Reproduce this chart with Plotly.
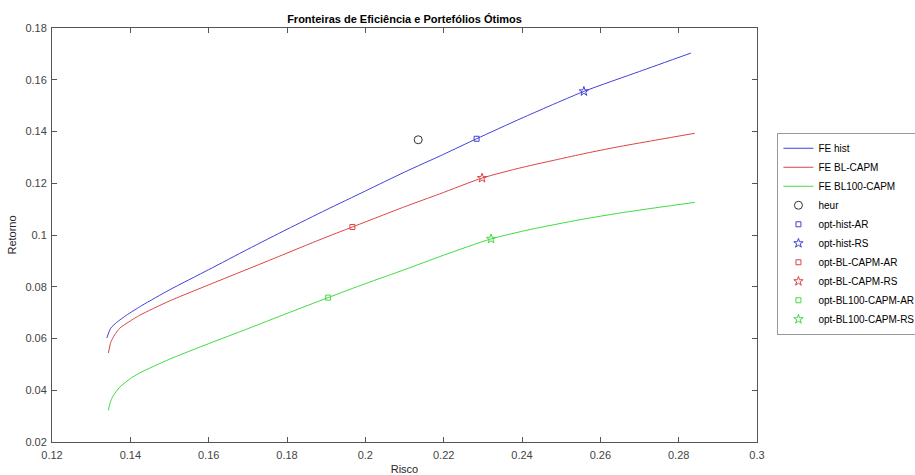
import plotly.graph_objects as go

# Efficient frontiers (risk, return)
fe_hist_risk = [0.1340, 0.1350, 0.1365, 0.1390, 0.1430, 0.1500, 0.1600, 0.1700, 0.1800,
                0.1900, 0.2000, 0.2100, 0.2200, 0.2284, 0.2400, 0.2558, 0.2700, 0.2831]
fe_hist_ret = [0.0602, 0.0640, 0.0662, 0.0690, 0.0728, 0.0788, 0.0866, 0.0945, 0.1022,
               0.1097, 0.1170, 0.1243, 0.1312, 0.1372, 0.1452, 0.1555, 0.1632, 0.1703]

fe_bl_risk = [0.1344, 0.1350, 0.1360, 0.1373, 0.1400, 0.1424, 0.1500, 0.1629, 0.1750,
              0.1884, 0.1967, 0.2100, 0.2190, 0.2298, 0.2400, 0.2500, 0.2573, 0.2650,
              0.2750, 0.2841]
fe_bl_ret = [0.0544, 0.0585, 0.0614, 0.0640, 0.0668, 0.0690, 0.0745, 0.0825, 0.0899,
             0.0982, 0.1031, 0.1109, 0.1159, 0.1220, 0.1261, 0.1295, 0.1319, 0.1342,
             0.1369, 0.1393]

fe_bl100_risk = [0.1344, 0.1348, 0.1356, 0.1373, 0.1400, 0.1424, 0.1500, 0.1600, 0.1700,
                 0.1800, 0.1905, 0.2000, 0.2100, 0.2200, 0.2321, 0.2420, 0.2548, 0.2650,
                 0.2750, 0.2841]
fe_bl100_ret = [0.0322, 0.0350, 0.0378, 0.0412, 0.0445, 0.0467, 0.0520, 0.0580, 0.0638,
                0.0697, 0.0758, 0.0812, 0.0866, 0.0922, 0.0985, 0.1021, 0.1059, 0.1085,
                0.1107, 0.1126]

# Individual portfolios (risk, return)
heur = (0.2135, 0.1368)
opt_hist_ar = (0.2284, 0.1372)
opt_hist_rs = (0.2558, 0.1555)
opt_bl_ar = (0.1967, 0.1031)
opt_bl_rs = (0.2298, 0.1220)
opt_bl100_ar = (0.1905, 0.0758)
opt_bl100_rs = (0.2321, 0.0985)

x_ticks = [0.12, 0.14, 0.16, 0.18, 0.2, 0.22, 0.24, 0.26, 0.28, 0.3]
x_tick_text = ["0.12", "0.14", "0.16", "0.18", "0.2", "0.22", "0.24", "0.26", "0.28", "0.3"]
y_ticks = [0.02, 0.04, 0.06, 0.08, 0.1, 0.12, 0.14, 0.16, 0.18]
y_tick_text = ["0.02", "0.04", "0.06", "0.08", "0.1", "0.12", "0.14", "0.16", "0.18"]

BLUE = "#4040dc"
RED = "#dc4444"
GREEN = "#40dc40"
FONT = "Liberation Sans, Arial, sans-serif"

fig = go.Figure()

for name, xs, ys, col in [("FE hist", fe_hist_risk, fe_hist_ret, BLUE),
                          ("FE BL-CAPM", fe_bl_risk, fe_bl_ret, RED),
                          ("FE BL100-CAPM", fe_bl100_risk, fe_bl100_ret, GREEN)]:
    fig.add_trace(go.Scatter(x=xs, y=ys, mode="lines", name=name,
                             line=dict(color=col, width=1, shape="spline", smoothing=0.6)))

for name, pt, sym, col, size in [
        ("heur", heur, "circle-open", "#333333", 8),
        ("opt-hist-AR", opt_hist_ar, "square-open", BLUE, 5),
        ("opt-hist-RS", opt_hist_rs, "star-open", BLUE, 7),
        ("opt-BL-CAPM-AR", opt_bl_ar, "square-open", RED, 5),
        ("opt-BL-CAPM-RS", opt_bl_rs, "star-open", RED, 7),
        ("opt-BL100-CAPM-AR", opt_bl100_ar, "square-open", GREEN, 5),
        ("opt-BL100-CAPM-RS", opt_bl100_rs, "star-open", GREEN, 7)]:
    fig.add_trace(go.Scatter(x=[pt[0]], y=[pt[1]], mode="markers", name=name,
                             marker=dict(symbol=sym, color=col, size=size,
                                         line=dict(color=col, width=1))))

axis_common = dict(showgrid=False, zeroline=False, showline=True, linecolor="#555555",
                   linewidth=1, mirror="ticks", ticks="inside", ticklen=5,
                   tickcolor="#555555", tickfont=dict(family=FONT, size=11, color="#444444"))

fig.update_layout(
    width=915, height=475,
    margin=dict(l=52, r=158, t=28, b=33, autoexpand=False),
    paper_bgcolor="white", plot_bgcolor="white",
    font=dict(family=FONT, color="#262626"),
    title=dict(text="<b>Fronteiras de Eficiência e Portefólios Ótimos</b>",
               x=0.5, xref="paper", y=0.96, yref="container", yanchor="middle",
               font=dict(family=FONT, size=11, color="#000000")),
    xaxis=dict(range=[0.12, 0.3], tickvals=x_ticks, ticktext=x_tick_text,
               ticklabelstandoff=3,
               title=dict(text="Risco", font=dict(family=FONT, size=11, color="#262626"),
                          standoff=9),
               **axis_common),
    yaxis=dict(range=[0.02, 0.18], tickvals=y_ticks, ticktext=y_tick_text,
               ticklabelstandoff=2,
               title=dict(text="Retorno", font=dict(family=FONT, size=11, color="#262626"),
                          standoff=6),
               **axis_common),
    legend=dict(x=1.029, xanchor="left", y=0.503, yanchor="middle",
                bordercolor="#999999", borderwidth=1, bgcolor="white",
                font=dict(family=FONT, size=10, color="#000000"),
                tracegroupgap=0, itemwidth=30),
    showlegend=True,
)

fig.write_html("out.html")
